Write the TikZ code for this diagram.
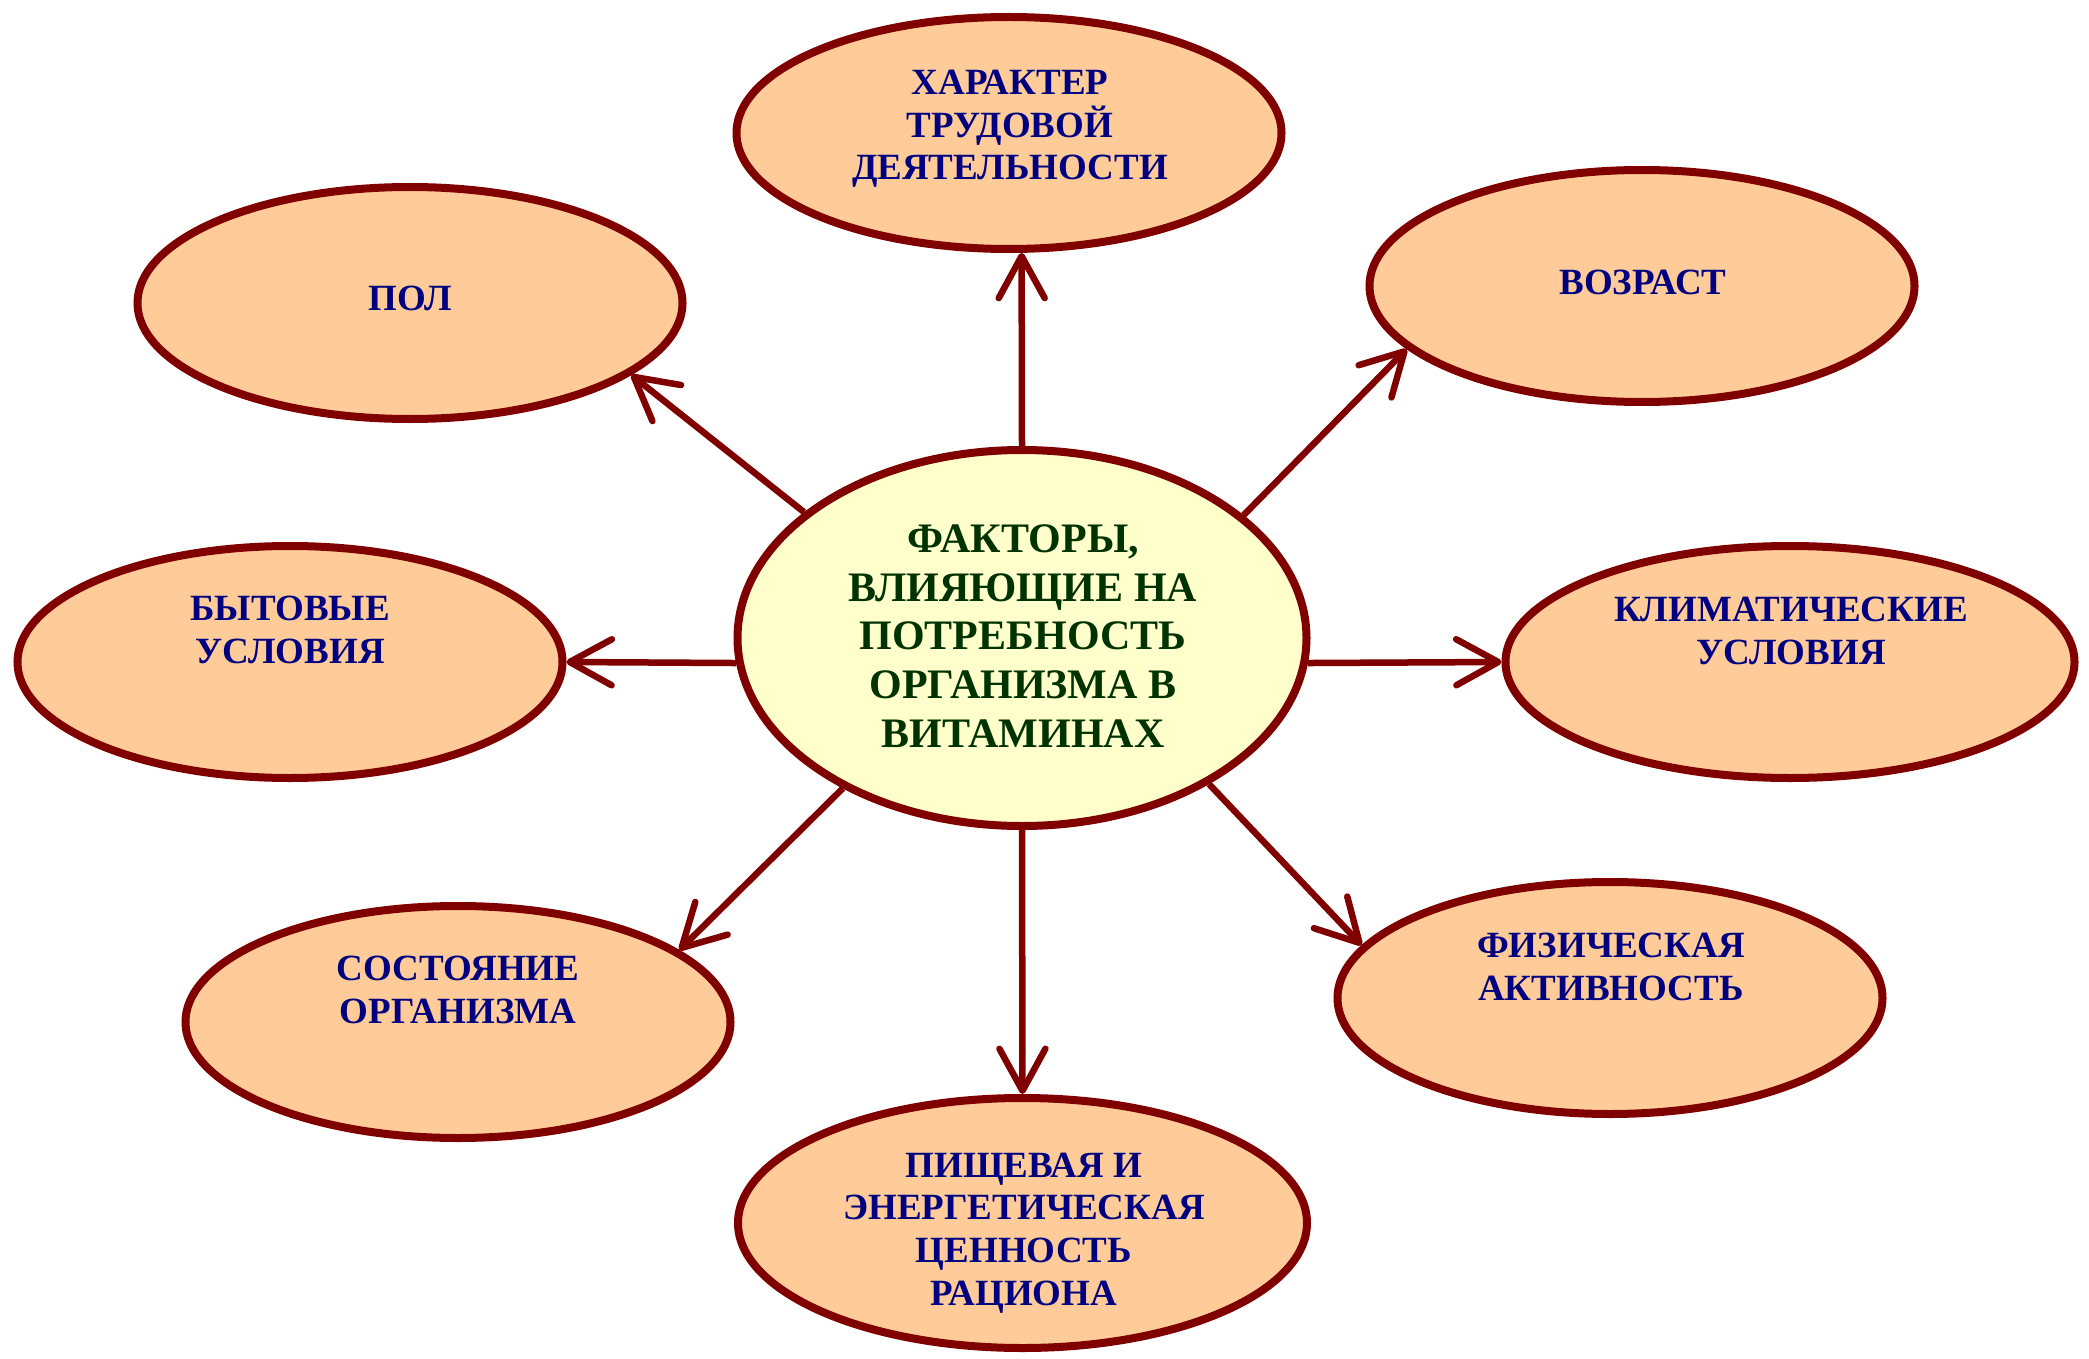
\documentclass[tikz,border=0pt]{standalone}
\usepackage{fontspec}
\setmainfont{Liberation Serif}
\usetikzlibrary{shapes.geometric,arrows.meta}
\definecolor{maroon}{HTML}{800000}
\definecolor{peach}{HTML}{FFCC99}
\definecolor{cream}{HTML}{FFFFCC}
\definecolor{navytext}{HTML}{000080}
\definecolor{greentext}{HTML}{003300}
\tikzset{
  outer/.style={ellipse, draw=maroon, fill=peach, line width=8pt, minimum width=545pt, minimum height=232pt, inner sep=0pt},
  centre/.style={ellipse, draw=maroon, fill=cream, line width=8pt, minimum width=569pt, minimum height=376pt, inner sep=0pt},
  lbl/.style={text=navytext, font=\bfseries\fontsize{37}{42.6}\selectfont, align=center, inner sep=0pt},
  clbl/.style={text=greentext, font=\bfseries\fontsize{42}{48.6}\selectfont, align=center, inner sep=0pt},
  arr/.style={draw=maroon, line width=6.5pt, -{Straight Barb[length=42pt,width=46pt,round]}}
}
\begin{document}
\begin{tikzpicture}[x=1pt,y=-1pt]
\useasboundingbox (0,0) rectangle (2089,1359);
% ellipses
\node[centre] (c) at (1022,638) {};
\node[outer] (t) at (1009,133) {};
\node[outer] (p) at (410,303) {};
\node[outer] (v) at (1642,286) {};
\node[outer] (b) at (290,662) {};
\node[outer, minimum width=569pt] (k) at (1790,662) {};
\node[outer] (s) at (458,1022) {};
\node[outer] (f) at (1610,998) {};
\node[outer, minimum width=569pt, minimum height=250pt] (r) at (1022.5,1223) {};
% texts
\node[clbl] (ct) at (1023,636) {ФАКТОРЫ,\\ВЛИЯЮЩИЕ НА\\ПОТРЕБНОСТЬ\\ОРГАНИЗМА В\\ВИТАМИНАХ};
\node[lbl] (tt) at (1010,129) {ХАРАКТЕР\\ТРУДОВОЙ\\ДЕЯТЕЛЬНОСТИ};
\node[lbl] (pt) at (410,298) {ПОЛ};
\node[lbl] (vt) at (1643,282) {ВОЗРАСТ};
\node[lbl] (bt) at (290,630) {БЫТОВЫЕ\\УСЛОВИЯ};
\node[lbl] (kt) at (1791,631) {КЛИМАТИЧЕСКИЕ\\УСЛОВИЯ};
\node[lbl] (st) at (458,990) {СОСТОЯНИЕ\\ОРГАНИЗМА};
\node[lbl] (ft) at (1611,967) {ФИЗИЧЕСКАЯ\\АКТИВНОСТЬ};
\node[lbl] (rt) at (1024,1233) {ПИЩЕВАЯ И\\ЭНЕРГЕТИЧЕСКАЯ\\ЦЕННОСТЬ\\РАЦИОНА};
% arrows
\draw[arr] (c.90) -- (t.276);
\draw[arr] (c.150.5) -- (p.342.2);
\draw[arr] (c.29.6) -- (v.195.9);
\draw[arr] (c.185.4) -- (b.0);
\draw[arr] (c.355.4) -- (k.180);
\draw[arr] (c.220.8) -- (s.18);
\draw[arr] (c.322.8) -- (f.168.5);
\draw[arr] (c.270) -- (r.90);
\end{tikzpicture}
\end{document}
